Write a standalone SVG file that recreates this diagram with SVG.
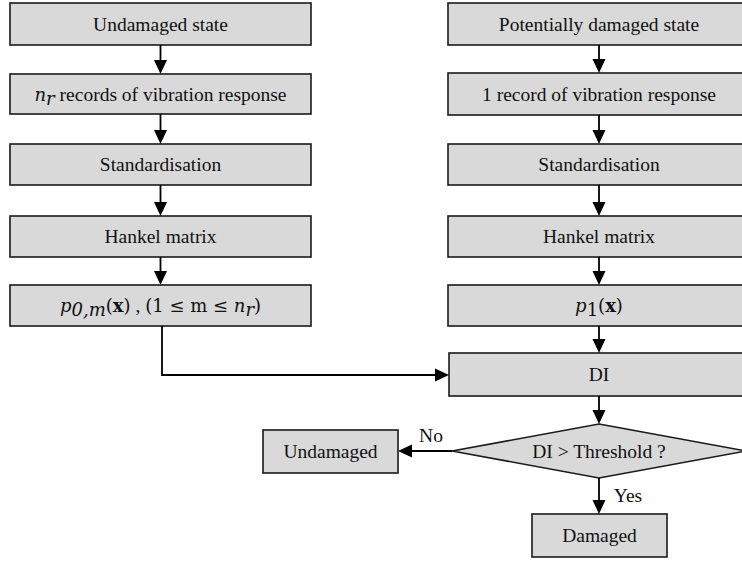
<svg xmlns="http://www.w3.org/2000/svg" width="742" height="561" viewBox="0 0 742 561">
<style>
.box{fill:#d9d9d9;stroke:#1a1a1a;stroke-width:1.6}
.t{font-family:"Liberation Serif","Times New Roman",serif;font-size:19.5px;fill:#111;text-anchor:middle}
.m{font-family:"DejaVu Serif","Liberation Serif",serif;font-size:18px}
.i{font-style:italic}
.b{font-weight:bold}
.ln{stroke:#000;stroke-width:1.8;fill:none}
.hd{fill:#000}
</style>
<rect width="742" height="561" fill="#fff"/>
<g id="L1"><rect class="box" x="10" y="3" width="301" height="42"/><text class="t" x="160.5" y="31">Undamaged state</text></g>
<g id="L2"><rect class="box" x="10" y="74" width="301" height="40"/><text class="t" x="160.5" y="101"><tspan class="m i">n</tspan><tspan class="m i" font-size="13" dy="4">r</tspan><tspan dy="-4"> records of vibration response</tspan></text></g>
<g id="L3"><rect class="box" x="10" y="144" width="301" height="41"/><text class="t" x="160.5" y="171">Standardisation</text></g>
<g id="L4"><rect class="box" x="10" y="216" width="301" height="41"/><text class="t" x="160.5" y="243">Hankel matrix</text></g>
<g id="L5"><rect class="box" x="10" y="285" width="301" height="41"/><text class="t" x="160.5" y="312"><tspan class="m i">p</tspan><tspan class="m i" font-size="13" dy="4">0,m</tspan><tspan class="m" dy="-4">(</tspan><tspan class="m b">x</tspan><tspan class="m">)</tspan><tspan> , </tspan><tspan class="m">(1 ≤ m ≤ </tspan><tspan class="m i">n</tspan><tspan class="m i" font-size="13" dy="4">r</tspan><tspan class="m" dy="-4">)</tspan></text></g>
<g id="R1"><rect class="box" x="448" y="3" width="302" height="42"/><text class="t" x="599" y="31">Potentially damaged state</text></g>
<g id="R2"><rect class="box" x="448" y="73" width="302" height="42"/><text class="t" x="599" y="101">1 record of vibration response</text></g>
<g id="R3"><rect class="box" x="448" y="144" width="302" height="41"/><text class="t" x="599" y="171">Standardisation</text></g>
<g id="R4"><rect class="box" x="448" y="216" width="302" height="41"/><text class="t" x="599" y="243">Hankel matrix</text></g>
<g id="R5"><rect class="box" x="448" y="285" width="302" height="41"/><text class="t" x="599" y="312"><tspan class="m i">p</tspan><tspan class="m" font-size="13" dy="4">1</tspan><tspan class="m" dy="-4">(</tspan><tspan class="m b">x</tspan><tspan class="m">)</tspan></text></g>
<g id="DI"><rect class="box" x="449" y="353" width="301" height="43"/><text class="t" x="599" y="381">DI</text></g>
<g id="decision"><polygon class="box" points="599,424 746,451 599,478 452,451"/><text class="t" x="599" y="458">DI &gt; Threshold ?</text></g>
<g id="undamaged"><rect class="box" x="263" y="430" width="135" height="43"/><text class="t" x="330.5" y="458">Undamaged</text></g>
<g id="damaged"><rect class="box" x="532" y="514" width="135" height="43"/><text class="t" x="599.5" y="542">Damaged</text></g>
<g id="connectors">
<path class="ln" d="M160.5 45V62 M160.5 114V132 M160.5 185V204 M160.5 257V273"/>
<path class="hd" d="M154 60H167L160.5 74Z M154 130H167L160.5 144Z M154 202H167L160.5 216Z M154 271H167L160.5 285Z"/>
<path class="ln" d="M599 45V61 M599 115V132 M599 185V204 M599 257V273 M599 326V341 M599 396V412 M599 478V502"/>
<path class="hd" d="M592.5 59H605.5L599 73Z M592.5 130H605.5L599 144Z M592.5 202H605.5L599 216Z M592.5 271H605.5L599 285Z M592.5 339H605.5L599 353Z M592.5 410H605.5L599 424Z M592.5 500H605.5L599 514Z"/>
<path class="ln" d="M162 326V375H437"/>
<path class="hd" d="M435 368.5V381.5L449 375Z"/>
<path class="ln" d="M452 451H410"/>
<path class="hd" d="M412 444.5V457.5L398 451Z"/>
<text class="t" x="431" y="442">No</text>
<text class="t" x="628" y="502">Yes</text>
</g>
</svg>
